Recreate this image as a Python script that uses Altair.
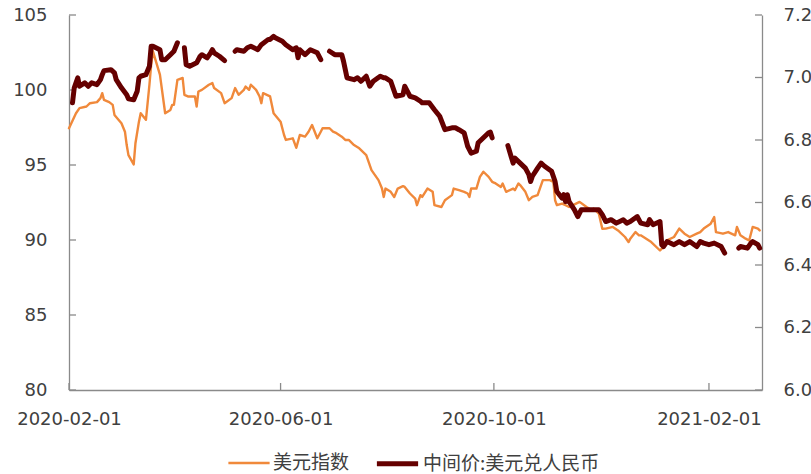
import altair as alt
import pandas as pd

# US dollar index (left axis)
dxy_dates = [
    "2020-02-01", "2020-02-05", "2020-02-07", "2020-02-11", "2020-02-13", "2020-02-17",
    "2020-02-19", "2020-02-20", "2020-02-21", "2020-02-24", "2020-02-26", "2020-02-27",
    "2020-03-02", "2020-03-04", "2020-03-05", "2020-03-06", "2020-03-09", "2020-03-10",
    "2020-03-12", "2020-03-13", "2020-03-16", "2020-03-18", "2020-03-19", "2020-03-20",
    "2020-03-24", "2020-03-27", "2020-03-30", "2020-03-31", "2020-04-01", "2020-04-03",
    "2020-04-06", "2020-04-07", "2020-04-09", "2020-04-13", "2020-04-14", "2020-04-15",
    "2020-04-17", "2020-04-21", "2020-04-23", "2020-04-24", "2020-04-28", "2020-04-30",
    "2020-05-04", "2020-05-05", "2020-05-06", "2020-05-08", "2020-05-11", "2020-05-12",
    "2020-05-14", "2020-05-15", "2020-05-18", "2020-05-20", "2020-05-21", "2020-05-22",
    "2020-05-26", "2020-05-27", "2020-05-28", "2020-06-01", "2020-06-03", "2020-06-04",
    "2020-06-08", "2020-06-10", "2020-06-12", "2020-06-15", "2020-06-17", "2020-06-19",
    "2020-06-22", "2020-06-24", "2020-06-25", "2020-06-29", "2020-07-01", "2020-07-03",
    "2020-07-06", "2020-07-08", "2020-07-10", "2020-07-13", "2020-07-16", "2020-07-20",
    "2020-07-21", "2020-07-23", "2020-07-27", "2020-07-29", "2020-07-30", "2020-07-31",
    "2020-08-03", "2020-08-05", "2020-08-07", "2020-08-10", "2020-08-11", "2020-08-14",
    "2020-08-17", "2020-08-18", "2020-08-20", "2020-08-21", "2020-08-24", "2020-08-27",
    "2020-08-28", "2020-09-01", "2020-09-03", "2020-09-07", "2020-09-08", "2020-09-11",
    "2020-09-14", "2020-09-16", "2020-09-17", "2020-09-18", "2020-09-21", "2020-09-23",
    "2020-09-25", "2020-09-28", "2020-09-30", "2020-10-02", "2020-10-05", "2020-10-06",
    "2020-10-08", "2020-10-12", "2020-10-13", "2020-10-15", "2020-10-16", "2020-10-19",
    "2020-10-21", "2020-10-23", "2020-10-26", "2020-10-27", "2020-10-29", "2020-11-02",
    "2020-11-04", "2020-11-05", "2020-11-06", "2020-11-09", "2020-11-11", "2020-11-13",
    "2020-11-17", "2020-11-19", "2020-11-23", "2020-11-26", "2020-11-27", "2020-11-30",
    "2020-12-02", "2020-12-04", "2020-12-08", "2020-12-11", "2020-12-15", "2020-12-17",
    "2020-12-18", "2020-12-21", "2020-12-23", "2020-12-24", "2020-12-30", "2021-01-04",
    "2021-01-05", "2021-01-06", "2021-01-08", "2021-01-12", "2021-01-15", "2021-01-18",
    "2021-01-21", "2021-01-25", "2021-01-27", "2021-01-29", "2021-02-02", "2021-02-04",
    "2021-02-05", "2021-02-09", "2021-02-12", "2021-02-16", "2021-02-17", "2021-02-19",
    "2021-02-22", "2021-02-24", "2021-02-26", "2021-03-01", "2021-03-02",
]
dxy_values = [
    97.45, 98.45, 98.79, 98.90, 99.12, 99.19,
    99.46, 99.79, 99.34, 99.19, 99.01, 98.34,
    97.78, 97.22, 96.33, 95.66, 95.04, 96.45,
    97.89, 98.45, 98.01, 100.35, 101.69, 102.58,
    101.02, 98.45, 98.67, 99.01, 99.01, 100.68,
    100.80, 99.68, 99.57, 99.57, 98.90, 99.90,
    100.01, 100.35, 100.46, 100.13, 99.79, 99.12,
    99.46, 99.79, 100.13, 99.68, 100.01, 100.23,
    100.01, 100.35, 100.01, 99.57, 99.12, 99.79,
    99.57, 99.01, 98.45, 97.89, 97.00, 96.67,
    96.78, 96.15, 97.00, 96.89, 97.22, 97.67,
    96.78, 97.22, 97.45, 97.45, 97.22, 97.12,
    96.89, 96.67, 96.67, 96.33, 96.11, 95.66,
    95.33, 94.66, 93.99, 93.43, 92.87, 93.43,
    93.21, 92.87, 93.43, 93.59, 93.54, 93.10,
    92.76, 92.32, 92.99, 92.87, 93.43, 93.21,
    92.32, 92.20, 92.65, 92.99, 93.43, 93.32,
    93.21, 93.10, 92.87, 93.43, 93.43, 94.21,
    94.55, 94.21, 93.88, 93.77, 93.54, 93.77,
    93.21, 93.43, 93.32, 93.77, 93.66, 93.21,
    92.65, 92.87, 92.99, 93.32, 93.99, 93.99,
    93.88, 92.65, 92.32, 92.43, 92.32, 92.20,
    92.43, 92.54, 92.20, 91.98, 92.10, 91.76,
    90.75, 90.76, 90.87, 90.64, 90.20, 89.86,
    90.09, 90.53, 90.31, 90.31, 89.86, 89.30,
    89.42, 89.53, 89.97, 90.20, 90.76, 90.42,
    90.20, 90.42, 90.53, 90.76, 91.09, 91.53,
    90.53, 90.42, 90.53, 90.31, 90.87, 90.31,
    90.09, 89.97, 90.87, 90.76, 90.64,
]

# USD/CNY central parity (right axis); None marks market holidays
cny_dates = [
    "2020-02-03", "2020-02-04", "2020-02-06", "2020-02-07", "2020-02-10", "2020-02-12",
    "2020-02-14", "2020-02-17", "2020-02-19", "2020-02-20", "2020-02-21", "2020-02-25",
    "2020-02-27", "2020-02-28", "2020-03-02", "2020-03-05", "2020-03-06", "2020-03-09",
    "2020-03-11", "2020-03-12", "2020-03-13", "2020-03-16", "2020-03-18", "2020-03-19",
    "2020-03-20", "2020-03-24", "2020-03-25", "2020-03-27", "2020-03-30", "2020-04-01",
    "2020-04-03", "2020-04-06", "2020-04-07", "2020-04-08", "2020-04-10", "2020-04-14",
    "2020-04-16", "2020-04-17", "2020-04-20", "2020-04-22", "2020-04-23", "2020-04-24",
    "2020-04-27", "2020-04-30", "2020-05-04", "2020-05-06", "2020-05-07", "2020-05-11",
    "2020-05-13", "2020-05-15", "2020-05-19", "2020-05-21", "2020-05-25", "2020-05-26",
    "2020-05-28", "2020-05-29", "2020-06-02", "2020-06-04", "2020-06-08", "2020-06-10",
    "2020-06-11", "2020-06-12", "2020-06-15", "2020-06-18", "2020-06-22", "2020-06-24",
    "2020-06-26", "2020-06-29", "2020-07-02", "2020-07-06", "2020-07-07", "2020-07-09",
    "2020-07-13", "2020-07-15", "2020-07-17", "2020-07-20", "2020-07-22", "2020-07-24",
    "2020-07-28", "2020-07-30", "2020-07-31", "2020-08-03", "2020-08-06", "2020-08-10",
    "2020-08-11", "2020-08-13", "2020-08-14", "2020-08-17", "2020-08-20", "2020-08-21",
    "2020-08-25", "2020-08-28", "2020-08-31", "2020-09-03", "2020-09-07", "2020-09-09",
    "2020-09-11", "2020-09-14", "2020-09-16", "2020-09-18", "2020-09-21", "2020-09-22",
    "2020-09-25", "2020-09-28", "2020-09-29", "2020-09-30", "2020-10-01", "2020-10-09",
    "2020-10-12", "2020-10-13", "2020-10-16", "2020-10-19", "2020-10-21", "2020-10-22",
    "2020-10-23", "2020-10-26", "2020-10-28", "2020-10-30", "2020-11-03", "2020-11-05",
    "2020-11-06", "2020-11-09", "2020-11-10", "2020-11-11", "2020-11-12", "2020-11-13",
    "2020-11-16", "2020-11-18", "2020-11-20", "2020-11-24", "2020-11-26", "2020-11-30",
    "2020-12-02", "2020-12-04", "2020-12-07", "2020-12-10", "2020-12-14", "2020-12-16",
    "2020-12-18", "2020-12-22", "2020-12-24", "2020-12-28", "2020-12-29", "2020-12-31",
    "2021-01-04", "2021-01-05", "2021-01-06", "2021-01-08", "2021-01-12", "2021-01-15",
    "2021-01-18", "2021-01-21", "2021-01-25", "2021-01-27", "2021-01-29", "2021-02-01",
    "2021-02-04", "2021-02-08", "2021-02-10", "2021-02-11", "2021-02-18", "2021-02-19",
    "2021-02-23", "2021-02-25", "2021-02-26", "2021-03-01", "2021-03-02",
]
cny_values = [
    6.919, 6.967, 6.999, 6.972, 6.983, 6.972,
    6.983, 6.977, 6.993, 7.009, 7.022, 7.025,
    7.015, 6.993, 6.967, 6.945, 6.932, 6.929,
    6.956, 6.999, 7.004, 7.009, 7.036, 7.100,
    7.100, 7.089, 7.057, 7.057, 7.073, 7.084,
    7.111, None, 7.095, 7.041, 7.036, 7.047,
    7.068, 7.073, 7.063, 7.079, 7.089, 7.079,
    7.068, 7.054, None, 7.084, 7.089, 7.084,
    7.095, 7.100, 7.089, 7.105, 7.122, 7.122,
    7.132, 7.127, 7.116, 7.105, 7.089, 7.095,
    7.063, 7.089, 7.073, 7.089, 7.079, 7.057,
    None, 7.084, 7.073, 7.073, 7.052, 6.999,
    6.993, 6.999, 6.988, 7.004, 6.972, 6.988,
    7.004, 6.999, 6.999, 6.988, 6.940, 6.945,
    6.972, 6.951, 6.940, 6.935, 6.924, 6.919,
    6.919, 6.897, 6.876, 6.833, 6.839, 6.839,
    6.833, 6.823, 6.780, 6.758, 6.764, 6.791,
    6.807, 6.823, 6.825, 6.807, None, 6.782,
    6.726, 6.742, 6.726, 6.710, 6.689, 6.667,
    6.684, 6.710, 6.726, 6.716, 6.700, 6.667,
    6.635, 6.614, 6.625, 6.603, 6.625, 6.603,
    6.577, 6.555, 6.577, 6.577, 6.577, 6.577,
    6.561, 6.539, 6.545, 6.534, 6.545, 6.534,
    6.539, 6.555, 6.534, 6.529, 6.545, 6.529,
    6.539, 6.465, 6.459, 6.475, 6.465, 6.475,
    6.465, 6.475, 6.459, 6.475, 6.470, 6.465,
    6.470, 6.459, 6.438, None, 6.454, 6.459,
    6.454, 6.470, 6.475, 6.465, 6.454,
]

series_names = ["美元指数", "中间价:美元兑人民币"]
series_colors = ["#F0893B", "#650000"]
series_widths = [2.4, 5.0]

left_ticks = [80, 85, 90, 95, 100, 105]
right_ticks = [6.0, 6.2, 6.4, 6.6, 6.8, 7.0, 7.2]
date_ticks = ["2020-02-01", "2020-06-01", "2020-10-01", "2021-02-01"]
date_start = "2020-02-01"
date_end = "2021-03-03 08:00"

W, H = 693, 375
TICK = 7
AXIS_COLOR = "#8a8a8a"
LABEL_COLOR = "#404040"
NUM_FONT = "DejaVu Sans"
CJK_FONT = "Noto Sans CJK SC"


def utc(ts):
    t = pd.Timestamp(ts)
    return alt.DateTime(year=t.year, month=t.month, date=t.day, hours=t.hour, utc=True)


dxy = pd.DataFrame({"date": dxy_dates, "value": dxy_values, "series": series_names[0]})

cny = pd.DataFrame({"date": cny_dates, "value": cny_values, "series": series_names[1]})
cny["seg"] = cny["value"].isna().cumsum()
cny = cny.dropna(subset=["value"])

x_scale = alt.Scale(type="utc", domain=[utc(date_start), utc(date_end)])
left_scale = alt.Scale(domain=[left_ticks[0], left_ticks[-1]], nice=False, zero=False)
right_scale = alt.Scale(domain=[right_ticks[0], right_ticks[-1]], nice=False, zero=False)

common_axis = dict(
    title=None, ticks=False, grid=False, labelFont=NUM_FONT, labelFontSize=18,
    labelColor=LABEL_COLOR, domainColor=AXIS_COLOR, domainWidth=1.3,
)
x_axis = alt.Axis(
    values=[utc(d) for d in date_ticks], format="%Y-%m-%d", labelFlush=False,
    labelOverlap=False, labelPadding=20, **common_axis,
)
left_axis = alt.Axis(orient="left", values=left_ticks, format="d", labelPadding=22, **common_axis)
right_axis = alt.Axis(orient="right", values=right_ticks, format=".1f", labelPadding=21, **common_axis)

color = alt.Color("series:N", scale=alt.Scale(domain=series_names, range=series_colors), title=None)
width = alt.StrokeWidth("series:N", scale=alt.Scale(domain=series_names, range=series_widths), title=None)

dxy_line = alt.Chart(dxy).mark_line(strokeJoin="round", strokeCap="round").encode(
    x=alt.X("date:T", scale=x_scale, axis=x_axis),
    y=alt.Y("value:Q", scale=left_scale, axis=left_axis),
    color=color,
    strokeWidth=width,
)

cny_line = alt.Chart(cny).mark_line(strokeJoin="round", strokeCap="round").encode(
    x=alt.X("date:T", scale=x_scale, axis=x_axis),
    y=alt.Y("value:Q", scale=right_scale, axis=right_axis),
    color=color,
    strokeWidth=width,
    detail="seg:N",
)

# inward tick marks on the three axes
left_tick_marks = alt.Chart(pd.DataFrame({"value": left_ticks})).mark_rule(
    color=AXIS_COLOR, strokeWidth=1.3
).encode(y=alt.Y("value:Q", scale=left_scale, axis=left_axis), x=alt.value(0), x2=alt.value(TICK))

right_tick_marks = alt.Chart(pd.DataFrame({"value": right_ticks})).mark_rule(
    color=AXIS_COLOR, strokeWidth=1.3
).encode(y=alt.Y("value:Q", scale=right_scale, axis=right_axis), x=alt.value(W - TICK), x2=alt.value(W))

date_tick_marks = alt.Chart(pd.DataFrame({"date": date_ticks})).mark_rule(
    color=AXIS_COLOR, strokeWidth=1.3
).encode(x=alt.X("date:T", scale=x_scale, axis=x_axis), y=alt.value(H - TICK), y2=alt.value(H))

left_group = alt.layer(dxy_line, left_tick_marks, date_tick_marks)
right_group = alt.layer(cny_line, right_tick_marks)

chart = (
    alt.layer(left_group, right_group)
    .resolve_scale(y="independent")
    .properties(
        width=W,
        height=H,
        autosize=alt.AutoSizeParams(type="none"),
        padding={"left": 69, "top": 15, "right": 49, "bottom": 84},
        background="white",
    )
    .configure_view(stroke=None)
    .configure_legend(
        orient="none",
        legendX=158,
        legendY=425,
        direction="horizontal",
        symbolType="stroke",
        symbolSize=1700,
        labelFont=CJK_FONT,
        labelFontSize=19,
        labelColor=LABEL_COLOR,
        labelOffset=2,
        labelLimit=400,
        columnPadding=16,
    )
)

chart.save("out.html", embed_options={"renderer": "svg", "actions": False})
